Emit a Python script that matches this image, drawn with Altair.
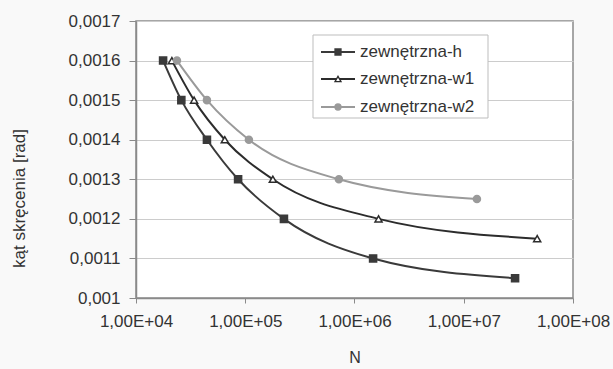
import altair as alt
import pandas as pd

# Fatigue life N versus twist angle for the three outer-layer variants
series_names = ["zewnętrzna-h", "zewnętrzna-w1", "zewnętrzna-w2"]

n_h = [1.77e4, 2.6e4, 4.46e4, 8.6e4, 2.26e5, 1.48e6, 2.95e7]
kat_h = [0.0016, 0.0015, 0.0014, 0.0013, 0.0012, 0.0011, 0.00105]

n_w1 = [2.13e4, 3.4e4, 6.5e4, 1.79e5, 1.66e6, 4.7e7]
kat_w1 = [0.0016, 0.0015, 0.0014, 0.0013, 0.0012, 0.00115]

n_w2 = [2.37e4, 4.46e4, 1.08e5, 7.2e5, 1.32e7]
kat_w2 = [0.0016, 0.0015, 0.0014, 0.0013, 0.00125]

x_ticks = [1e4, 1e5, 1e6, 1e7, 1e8]
y_ticks = [0.001, 0.0011, 0.0012, 0.0013, 0.0014, 0.0015, 0.0016, 0.0017]

line_colors = ["#3a3a3a", "#2c2c2c", "#9a9a9a"]
fill_colors = ["#3a3a3a", "#ffffff", "#9a9a9a"]
shapes = ["square", "triangle-up", "circle"]

rows = []
for name, ns, ks in zip(series_names, [n_h, n_w1, n_w2], [kat_h, kat_w1, kat_w2]):
    for n, k in zip(ns, ks):
        rows.append({"seria": name, "N": n, "kat": k})
df = pd.DataFrame(rows)

FONT = "Liberation Sans"

x_axis = alt.Axis(
    values=x_ticks,
    labelExpr="'1,00E+0' + round(log(datum.value) / LN10)",
    labelOverlap=False,
    labelFlush=False,
    labelBound=False,
    grid=False,
    tickSize=5,
    labelPadding=10,
    title="N",
    titleY=59,
    titleFontSize=16,
    titleBaseline="middle",
    titleFontWeight="normal",
)
y_axis = alt.Axis(
    values=y_ticks,
    tickCount=8,
    labelExpr="replace(format(datum.value, '.4~f'), '.', ',')",
    labelOverlap=False,
    labelFlush=False,
    labelBound=False,
    grid=True,
    tickSize=7,
    labelPadding=9,
    title="kąt skręcenia [rad]",
    titleX=-117,
    titleY=177,
    titleBaseline="middle",
    titleFontWeight="normal",
)
x_scale = alt.Scale(type="log", domain=[1e4, 1e8], nice=False)
y_scale = alt.Scale(domain=[0.001, 0.0017], nice=False, zero=False)

color_scale = alt.Scale(domain=series_names, range=line_colors)

lines = alt.Chart(df).mark_line(interpolate="monotone", strokeWidth=2).encode(
    x=alt.X("N:Q", scale=x_scale, axis=x_axis),
    y=alt.Y("kat:Q", scale=y_scale, axis=y_axis),
    color=alt.Color("seria:N", scale=color_scale, legend=None),
)

points = alt.Chart(df).mark_point(filled=False, size=50, strokeWidth=1.5, opacity=1).encode(
    x=alt.X("N:Q", scale=x_scale, axis=x_axis),
    y=alt.Y("kat:Q", scale=y_scale, axis=y_axis),
    shape=alt.Shape("seria:N", scale=alt.Scale(domain=series_names, range=shapes), legend=None),
    fill=alt.Fill("seria:N", scale=alt.Scale(domain=series_names, range=fill_colors), legend=None),
    stroke=alt.Stroke("seria:N", scale=color_scale, legend=None),
)

# Hand-built legend box in the upper right of the plot
one = pd.DataFrame({"k": [0]})
legend_layers = [
    alt.Chart(one).mark_rect(fill="white", stroke="#bdbdbd", strokeWidth=1).encode(
        x=alt.value(177), x2=alt.value(352), y=alt.value(14), y2=alt.value(97)
    )
]
row_y = [31, 58, 86]
for name, lc, fc, shp, ry in zip(series_names, line_colors, fill_colors, shapes, row_y):
    d = pd.DataFrame({"seria": [name]})
    legend_layers.append(
        alt.Chart(d).mark_rule(color=lc, strokeWidth=2).encode(
            x=alt.value(185), x2=alt.value(219), y=alt.value(ry)
        )
    )
    legend_layers.append(
        alt.Chart(d).mark_point(shape=shp, fill=fc, stroke=lc, size=36, strokeWidth=1.3, opacity=1).encode(
            x=alt.value(202), y=alt.value(ry)
        )
    )
    legend_layers.append(
        alt.Chart(d).mark_text(align="left", baseline="middle", fontSize=17, font=FONT, color="#333333").encode(
            x=alt.value(224), y=alt.value(ry), text="seria:N"
        )
    )

chart = alt.layer(lines, points, *legend_layers).properties(
    width=437,
    height=277,
    autosize=alt.AutoSizeParams(type="none"),
    padding={"left": 136, "top": 21, "right": 40, "bottom": 71},
    background="#f9f9f9",
).configure_view(
    fill="#ffffff", stroke="#8a8a8a", strokeWidth=1.5
).configure_axis(
    labelFont=FONT,
    titleFont=FONT,
    labelFontSize=17,
    titleFontSize=17,
    labelColor="#333333",
    titleColor="#333333",
    domainColor="#8a8a8a",
    domainWidth=1.5,
    tickColor="#8a8a8a",
    gridColor="#cccccc",
    gridWidth=1,
)

chart.save("out.html", embed_options={"renderer": "svg", "actions": False})
